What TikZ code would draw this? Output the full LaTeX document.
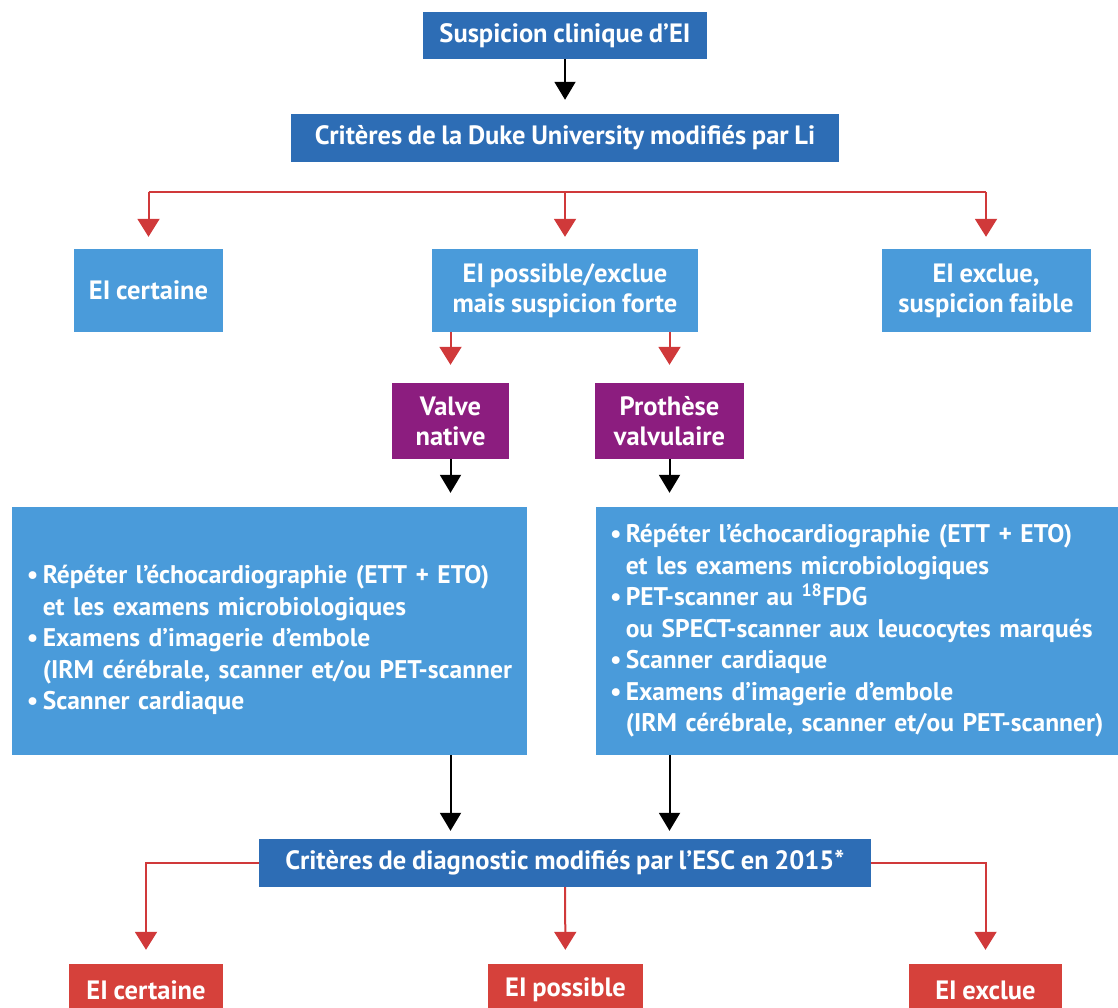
\documentclass[tikz,border=0pt]{standalone}
\usepackage{fontspec}
\setmainfont{PT Sans}[WordSpace=0.85]
\usetikzlibrary{arrows.meta}
\definecolor{darkblue}{HTML}{2D6DB5}
\definecolor{lightblue}{HTML}{4A9BDA}
\definecolor{purplebox}{HTML}{8C1D7F}
\definecolor{redbox}{HTML}{D6413B}
\definecolor{redline}{HTML}{D0393A}
\newcommand{\blt}{\textbullet\,}
\newcommand{\ind}{\phantom{\textbullet\,}}

\begin{document}
\begin{tikzpicture}[x=1pt, y=-1pt,
    box/.style={fill=#1, text=white, inner sep=0pt, align=center,
        font=\bfseries\fontsize{26.5}{30}\selectfont},
    bigbox/.style={fill=lightblue, text=white, inner xsep=15pt, align=left,
        minimum height=248pt, font=\bfseries\fontsize{25.5}{31.5}\selectfont},
    blkarr/.style={line width=2pt, -{Triangle[length=18pt,width=21pt]}, shorten >=#1},
    redarr/.style={redline, line width=2pt, -{Triangle[length=18pt,width=22pt]}, shorten >=#1}
]
    \useasboundingbox (0,0) rectangle (1118,1008);

    % top
    \node[box=darkblue, minimum width=284pt, minimum height=47pt] (susp) at (565,35.5) {Suspicion clinique d’EI};
    \node[box=darkblue, minimum width=548pt, minimum height=48pt] (duke) at (565,138) {Critères de la Duke University modifiés par Li};
    \draw[blkarr=14pt] (susp) -- (duke);

    % first classification
    \node[box=lightblue, minimum width=149pt, minimum height=83pt] (cert) at (148.5,290.5) {EI certaine};
    \node[box=lightblue, minimum width=266pt, minimum height=83pt] (poss) at (565,290.5) {EI possible/exclue\\mais suspicion forte};
    \node[box=lightblue, minimum width=209pt, minimum height=83pt] (excl) at (986,290.5) {EI exclue,\\suspicion faible};
    \coordinate (bar) at (566,192);
    \draw[redline, line width=2pt] (cert.north |- bar) -- (excl.north |- bar);
    \foreach \n in {cert,poss,excl}
        \draw[redarr=12pt] (\n.north |- bar) -- (\n.north);

    % valves
    \node[box=purplebox, minimum width=117pt, minimum height=76pt] (native) at (450.5,421) {Valve\\native};
    \node[box=purplebox, minimum width=149pt, minimum height=76pt] (prot) at (669.5,421) {Prothèse\\valvulaire};
    \draw[redarr=18pt] (poss.south -| native) -- (native);
    \draw[redarr=18pt] (poss.south -| prot) -- (prot);

    % examens
    \node[bigbox, minimum width=515pt, text width=485pt] (natexam) at (269.5,631)
        {\rule{0pt}{37pt}\blt Répéter l’échocardiographie (ETT + ETO)\\
         \ind et les examens microbiologiques\\
         \blt Examens d’imagerie d’embole\\
         \mbox{\ind (IRM cérébrale, scanner et/ou PET-scanner}\\
         \blt Scanner cardiaque};
    \node[bigbox, minimum width=530pt, text width=502pt, inner xsep=14pt] (protexam) at (861,631)
        {\blt Répéter l’échocardiographie (ETT + ETO)\\
         \ind et les examens microbiologiques\\
         \blt PET-scanner au \textsuperscript{18}FDG\\
         \mbox{\ind ou SPECT-scanner aux leucocytes marqués}\\
         \blt Scanner cardiaque\\
         \blt Examens d’imagerie d’embole\\
         \mbox{\ind (IRM cérébrale, scanner et/ou PET-scanner)}};
    \draw[blkarr=14pt] (native) -- (natexam.north -| native);
    \draw[blkarr=14pt] (prot) -- (protexam.north -| prot);

    % ESC
    \node[box=darkblue, minimum width=612pt, minimum height=48pt] (esc) at (565,863) {Critères de diagnostic modifiés par l’ESC en 2015*};
    \draw[blkarr=8pt] (natexam.south -| native) -- (esc.north -| native);
    \draw[blkarr=8pt] (protexam.south -| prot) -- (esc.north -| prot);

    % final
    \node[box=redbox, minimum width=154pt, minimum height=52pt] (fcert) at (146,990) {EI certaine};
    \node[box=redbox, minimum width=155pt, minimum height=52pt] (fposs) at (565.5,990) {EI possible};
    \node[box=redbox, minimum width=153pt, minimum height=52pt] (fexcl) at (985.5,990) {EI exclue};
    \draw[redarr=14pt] (esc.west) -| (fcert);
    \draw[redarr=14pt] (esc) -- (fposs);
    \draw[redarr=14pt] (esc.east) -| (fexcl);
\end{tikzpicture}
\end{document}
